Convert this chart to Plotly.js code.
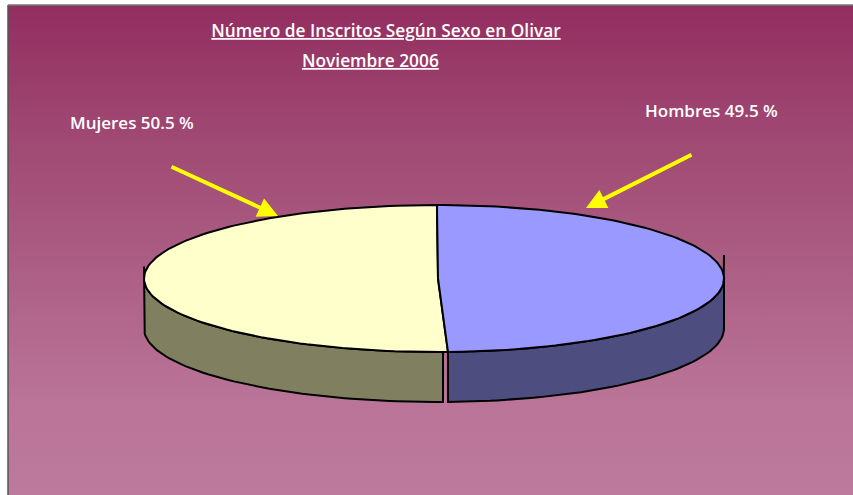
<!DOCTYPE html>
<html>
<head>
<meta charset="utf-8">
<script src="https://cdn.plot.ly/plotly-3.0.1.min.js"></script>
<style>
html,body{margin:0;padding:0;background:#fff;overflow:hidden}
#wrap{position:absolute;left:0;top:0;width:853px;height:495px;background:#fff}
#bg{position:absolute;left:8px;top:5px;width:845px;height:490px;background:linear-gradient(to bottom,#932E60 0px,#A04A74 140px,#AB5C82 250px,#BA7498 395px,#BC7A9C 490px)}
#chart{position:absolute;left:0;top:0;width:853px;height:495px}
</style>
</head>
<body>
<div id="wrap"><div id="bg"></div><div id="chart"></div></div>
<script>
const categories = ["Hombres", "Mujeres"];
const shares = [49.5, 50.5];
const titleLines = ["Número de Inscritos Según Sexo en Olivar", "Noviembre 2006"];
const topColors = ["#9999FF", "#FFFFCC"];
const wallColors = ["#4D4D80", "#808060"];

const cx = 438, cy = 278.5, aR = 286, aL = 294, b = 73.5, depth = 50, seamGap = 1, STEP = 1.5, firstAngle = -0.2;
const rim = (deg, dy) => {
  const t = deg * Math.PI / 180, s = Math.sin(t);
  return [cx + (s >= 0 ? aR : aL) * s, cy - b * Math.cos(t) + (dy || 0)];
};
const range = (a, z) => {
  const o = [];
  for (let d = a; d < z; d += STEP) o.push(d);
  o.push(z);
  return o;
};
const seam = firstAngle + shares[0] / (shares[0] + shares[1]) * 360;

function poly(points, color) {
  return {
    type: "scatter", mode: "lines", fill: "toself", fillcolor: color,
    x: points.map(p => p[0]), y: points.map(p => p[1]),
    line: {color: "#000", width: 2, shape: "linear"}, hoverinfo: "skip", showlegend: false
  };
}

const blueAngles = range(90, seam);
const oliveAngles = range(seam + seamGap, 270);
const wallBlue = [rim(90, -23.5)]
  .concat(blueAngles.map(d => rim(d, 0)))
  .concat(blueAngles.slice().reverse().map(d => rim(d, depth)))
  .concat([rim(90, 4)]);
wallBlue.push(rim(90, 0));
const wallOlive = oliveAngles.map(d => rim(d, 0))
  .concat([rim(270, -12)])
  .concat([rim(270, 0)])
  .concat([rim(270, 8)])
  .concat(oliveAngles.slice().reverse().map(d => rim(d, depth)));
wallOlive.push(wallOlive[0]);

const topBlue = [[cx, cy]].concat(range(firstAngle, seam).map(d => rim(d, 0))).concat([[cx, cy]]);
const topYellow = [[cx, cy]].concat(range(seam, 360 + firstAngle).map(d => rim(d, 0))).concat([[cx, cy]]);

const traces = [
  poly(wallBlue, wallColors[0]),
  poly(wallOlive, wallColors[1]),
  poly(topYellow, topColors[1]),
  poly(topBlue, topColors[0])
];

const FONT = "'Open Sans', Lato, sans-serif";
const txt = (text, x, y, size) => ({
  text: text, xref: "x", yref: "y", x: x, y: y, showarrow: false,
  xanchor: "center", yanchor: "middle",
  font: {family: FONT, size: size, color: "#fff", weight: 600}
});
const arrow = (x, y, ax, ay) => ({
  x: x, y: y, ax: ax, ay: ay, xref: "x", yref: "y", axref: "x", ayref: "y",
  text: "", showarrow: true, arrowhead: 2, arrowsize: 1, arrowwidth: 4, arrowcolor: "#FFFF00"
});

const layout = {
  width: 853, height: 495,
  margin: {l: 0, r: 0, t: 0, b: 0},
  paper_bgcolor: "rgba(0,0,0,0)", plot_bgcolor: "rgba(0,0,0,0)",
  showlegend: false,
  title: {
    text: "<u>" + titleLines[0] + "</u>",
    x: 386 / 853, y: 1 - 31 / 495, xanchor: "center", yanchor: "middle",
    font: {family: FONT, size: 17.3, color: "#fff", weight: 600}
  },
  xaxis: {range: [0, 853], visible: false, fixedrange: true},
  yaxis: {range: [495, 0], visible: false, fixedrange: true},
  shapes: [
    {type: "line", xref: "x", yref: "y", x0: 8, x1: 8, y0: 5, y1: 495, line: {color: "#555", width: 1.5}},
    {type: "line", xref: "x", yref: "y", x0: 8, x1: 853, y0: 5, y1: 5, line: {color: "#777", width: 1.5}}
  ],
  annotations: [
    txt("<u>" + titleLines[1] + "</u>", 370, 60, 17.3),
    txt(categories[1] + " " + shares[1].toFixed(1) + " %", 132, 122, 17),
    txt(categories[0] + " " + shares[0].toFixed(1) + " %", 711, 110, 17),
    arrow(278, 216, 170, 166),
    arrow(586, 208, 693, 154)
  ]
};
Plotly.newPlot("chart", traces, layout, {displayModeBar: false, staticPlot: true});
</script>
</body>
</html>
